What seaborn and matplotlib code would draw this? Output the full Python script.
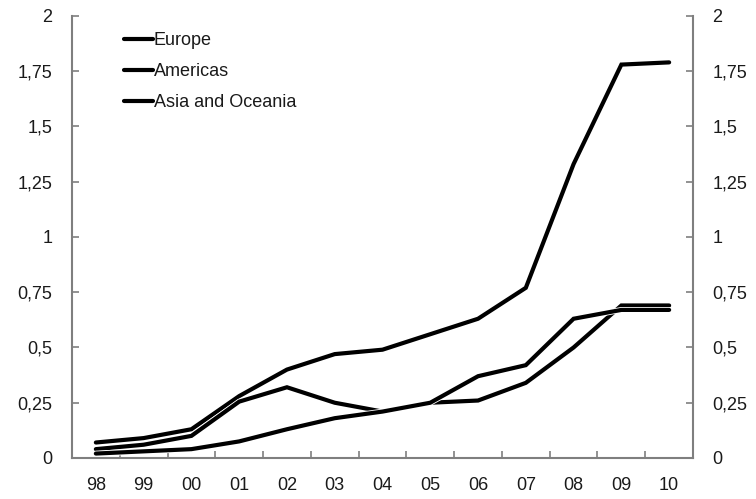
import pandas as pd
import matplotlib
matplotlib.use("Agg")
import matplotlib.pyplot as plt
import matplotlib.patheffects as pe
from matplotlib.ticker import FixedLocator
import seaborn as sns

# Values
years = ["98", "99", "00", "01", "02", "03", "04", "05", "06", "07", "08", "09", "10"]
europe = [0.07, 0.09, 0.13, 0.28, 0.40, 0.47, 0.49, 0.56, 0.63, 0.77, 1.33, 1.78, 1.79]
americas = [0.04, 0.06, 0.10, 0.255, 0.32, 0.25, 0.21, 0.25, 0.26, 0.34, 0.50, 0.69, 0.69]
asia = [0.02, 0.03, 0.04, 0.075, 0.13, 0.18, 0.21, 0.25, 0.37, 0.42, 0.63, 0.67, 0.67]
series_names = ["Europe", "Americas", "Asia and Oceania"]
y_ticks = [0, 0.25, 0.5, 0.75, 1, 1.25, 1.5, 1.75, 2]

data = pd.DataFrame({
    "year": years * 3,
    "value": europe + americas + asia,
    "region": [n for n in series_names for _ in years],
})

sns.set_style("white")
plt.rcParams["font.family"] = ["Liberation Sans", "DejaVu Sans"]

fig = plt.figure(figsize=(7.56, 4.99), dpi=100)
ax = fig.add_axes([0.0952, 0.0822, 0.8215, 0.8858])

sns.lineplot(
    data=data, x="year", y="value", hue="region",
    palette=["black"] * 3, linewidth=3, ax=ax, legend=False,
    sort=False,
)

for line in ax.lines:
    line.set_path_effects([pe.Stroke(linewidth=4.2, foreground="white"), pe.Normal()])
    line.set_solid_joinstyle("miter")

ax.set_xlim(-0.5, len(years) - 0.5)
ax.set_ylim(0, 2)
ax.set_xlabel("")
ax.set_ylabel("")

grey = "#7f7f7f"
for side in ["left", "right", "bottom"]:
    ax.spines[side].set_visible(True)
    ax.spines[side].set_color(grey)
    ax.spines[side].set_linewidth(1.5)
ax.spines["top"].set_visible(False)

ax.set_yticks(y_ticks)
ax.set_yticklabels([f"{t:g}".replace(".", ",") for t in y_ticks])
ax.tick_params(axis="y", left=True, right=True, labelleft=True, labelright=True,
               direction="in", length=5, width=1.2, color=grey,
               labelsize=13, labelcolor="#1a1a1a", pad=14)

ax.set_xticks(range(len(years)))
ax.set_xticklabels(years)
ax.tick_params(axis="x", which="major", length=0, labelsize=13,
               labelcolor="#1a1a1a", pad=14)
ax.xaxis.set_minor_locator(FixedLocator([i + 0.5 for i in range(len(years) - 1)]))
ax.tick_params(axis="x", which="minor", bottom=True, direction="in",
               length=5, width=1.2, color=grey)

handles = [plt.Line2D([], [], color="black", linewidth=3) for _ in series_names]
ax.legend(handles, series_names, loc="upper left", bbox_to_anchor=(0.084, 0.964),
          frameon=False, fontsize=13, handlelength=1.6, handletextpad=0.05,
          labelspacing=0.78, borderpad=0, borderaxespad=0, labelcolor="#1a1a1a")

fig.savefig("out.png", dpi=100)
